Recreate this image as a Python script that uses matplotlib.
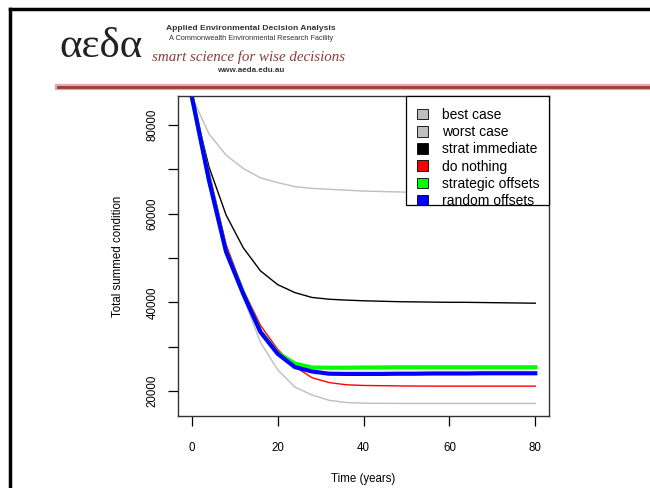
import matplotlib.pyplot as plt
from matplotlib.patches import Patch, Rectangle
from matplotlib.lines import Line2D
import numpy as np

# time steps (years)
years = np.arange(0, 84, 4)

best_case = np.array([86500, 78000, 73200, 70200, 68100, 67000, 66100, 65700, 65500, 65300, 65100,
                      65000, 64900, 64800, 64700, 64650, 64600, 64550, 64500, 64450, 64400])
worst_case = np.array([86500, 67900, 50900, 41100, 31000, 24800, 20900, 19100, 17900, 17400, 17250,
                       17220, 17200, 17200, 17200, 17200, 17200, 17200, 17200, 17200, 17200])
strat_immediate = np.array([86500, 70600, 59700, 52300, 47100, 44000, 42200, 41100, 40700, 40500, 40350,
                            40250, 40150, 40100, 40050, 40000, 40000, 39950, 39900, 39850, 39800])
do_nothing = np.array([86500, 69500, 53000, 42800, 34800, 29400, 25500, 23000, 21900, 21400, 21250,
                       21200, 21150, 21120, 21100, 21100, 21100, 21100, 21100, 21100, 21100])
strategic_offsets = np.array([86500, 67800, 51500, 42000, 33400, 28600, 26200, 25300, 25250, 25250, 25300,
                              25300, 25350, 25350, 25350, 25350, 25350, 25350, 25350, 25350, 25350])
random_offsets = np.array([86500, 67600, 51400, 41900, 33300, 28400, 25400, 24400, 23900, 23850, 23850,
                           23850, 23900, 23900, 23950, 23950, 23950, 24000, 24000, 24000, 24000])

labels = ['best case', 'worst case', 'strat immediate', 'do nothing', 'strategic offsets', 'random offsets']
colors = ['#bebebe', '#bebebe', 'black', '#ff0000', '#00ff00', '#0000ff']

plt.rcParams['font.family'] = ['Liberation Sans', 'DejaVu Sans']

fig = plt.figure(figsize=(6.5, 4.88), dpi=100)

# slide decoration: frame, header text, red rule
fig.add_artist(Line2D([10/650, 1], [1 - 9/488, 1 - 9/488], color='black', lw=2.5, transform=fig.transFigure))
fig.add_artist(Line2D([10/650, 10/650], [0, 1 - 9/488], color='black', lw=2.5, transform=fig.transFigure))
fig.add_artist(Line2D([58/650, 1], [1 - 87/488, 1 - 87/488], color='#e3a9a9', lw=4.5, transform=fig.transFigure))
fig.add_artist(Line2D([58/650, 1], [1 - 87/488, 1 - 87/488], color='#9e3b3b', lw=2.0, transform=fig.transFigure))

fig.text(101/650, 1 - 47/488, 'αεδα', family=['Liberation Serif', 'DejaVu Serif'], fontsize=31,
         color='#222222', ha='center', va='center')
fig.text(251/650, 1 - 28/488, 'Applied Environmental Decision Analysis',
         family=['Liberation Sans Narrow', 'Liberation Sans'], fontweight='bold', fontsize=6.1,
         color='#333333', ha='center', va='center')
fig.text(251/650, 1 - 38/488, 'A Commonwealth Environmental Research Facility',
         family=['Liberation Sans Narrow', 'Liberation Sans'], fontsize=5.3,
         color='#333333', ha='center', va='center')
fig.text(249/650, 1 - 57/488, 'smart science for wise decisions',
         family=['Liberation Serif', 'DejaVu Serif'], style='italic', fontsize=10.8,
         color='#8e3a3a', ha='center', va='center')
fig.text(251/650, 1 - 71/488, 'www.aeda.edu.au',
         family=['Liberation Sans Narrow', 'Liberation Sans'], fontweight='bold', fontsize=5.8,
         color='#333333', ha='center', va='center')

ax = fig.add_axes([178/650, 72/488, 371/650, 320/488])

ax.plot(years, best_case, color=colors[0], lw=1.0)
ax.plot(years, worst_case, color=colors[1], lw=1.0)
ax.plot(years, strat_immediate, color=colors[2], lw=1.0)
ax.plot(years, do_nothing, color=colors[3], lw=1.0)
ax.plot(years, strategic_offsets, color=colors[4], lw=3.0)
ax.plot(years, random_offsets, color=colors[5], lw=3.0)

ax.set_xlim(-3.2, 83.2)
ax.set_ylim(14360, 86540)
ax.set_xticks([0, 20, 40, 60, 80])
ax.set_yticks([20000, 30000, 40000, 50000, 60000, 70000, 80000])
ax.set_yticklabels(['20000', '', '40000', '', '60000', '', '80000'], rotation=90, va='center')
ax.tick_params(direction='out', length=7, width=0.9, labelsize=8.3, color='black')
ax.tick_params(axis='x', pad=12)
ax.tick_params(axis='y', pad=7)
for s in ax.spines.values():
    s.set_linewidth(1.0)
    s.set_color('#333333')

ax.set_xlabel('Time (years)', fontsize=8.3, va='center')
ax.xaxis.set_label_coords(0.5, -63/320)
ax.set_ylabel('Total summed condition', fontsize=8.3, va='center')
ax.yaxis.set_label_coords(-60/371, 0.5)

# legend box drawn by hand so its padding matches
ax.add_patch(Rectangle((228/371, 211/320), 143/371, 109/320, transform=ax.transAxes,
                       facecolor='white', edgecolor='black', lw=0.9, zorder=4, clip_on=False))
handles = [Patch(facecolor=c, edgecolor='black', lw=0.6) for c in colors]
ax.legend(handles, labels, loc='upper left', bbox_to_anchor=(239/371, 308/320),
          borderaxespad=0, borderpad=0, frameon=False,
          fontsize=10, handlelength=0.8, handleheight=0.8, handletextpad=1.0,
          labelspacing=0.23).set_zorder(5)

fig.savefig('out.png', dpi=100)
